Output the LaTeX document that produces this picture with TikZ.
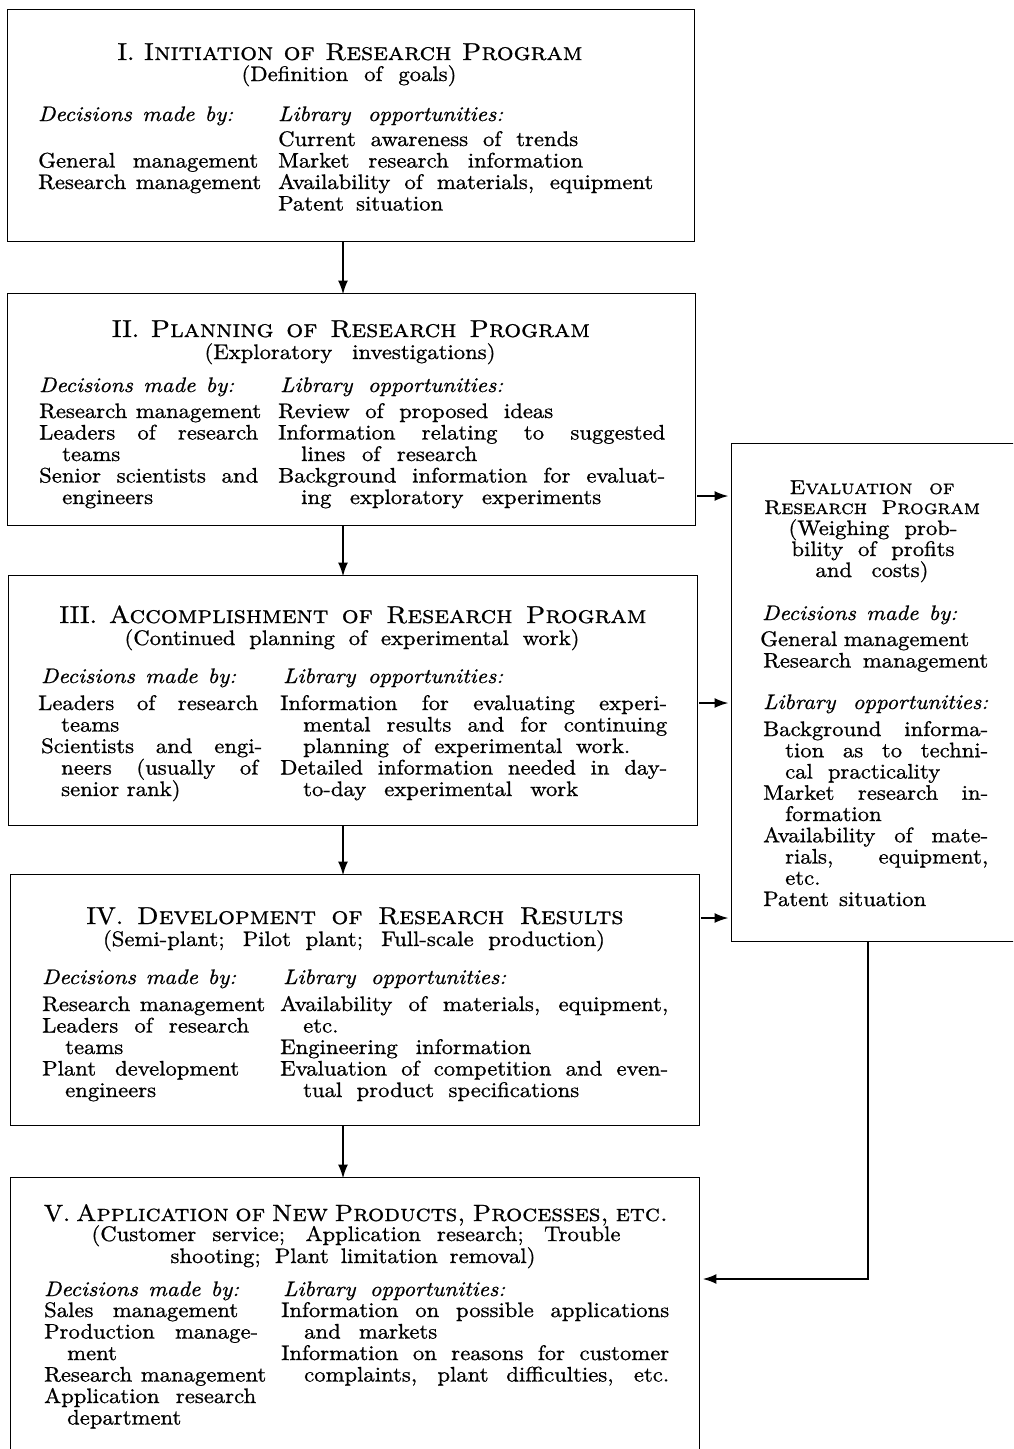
\documentclass[tikz,border=0pt]{standalone}
\usepackage{fontspec}
\setmainfont{lmroman10-regular.otf}[
  ItalicFont=lmroman10-italic.otf,
  SmallCapsFont=lmromancaps10-regular.otf,
  FakeBold=0.9, FakeStretch=1.08]
\usetikzlibrary{arrows.meta}
\newcommand\lnW[2]{\hbox{\makebox[#1pt][s]{#2}}}
\newcommand\lnIW[2]{\hbox{\hspace*{23pt}\makebox[#1pt][s]{#2}}}
\newcommand\lnN[1]{\hbox{#1}}
\newcommand\lnIN[1]{\hbox{\hspace*{23pt}#1}}
\newcommand\colbox[1]{\vtop{\lineskiplimit=-100pt\lineskip=0pt #1}}
\begin{document}
\begin{tikzpicture}[x=1pt,y=-1pt,
  box/.style={draw, line width=0.9pt, inner sep=0},
  txt/.style={inner sep=0, anchor=base west, font=\fontsize{21}{21.5}\selectfont},
  hd/.style={inner sep=0, anchor=base west, font=\fontsize{21}{21.5}\selectfont\itshape},
  ttl/.style={inner sep=0, anchor=base, font=\fontsize{24.5}{24}\selectfont},
  sub/.style={inner sep=0, anchor=base, font=\fontsize{21}{21.5}\selectfont},
  evt/.style={inner sep=0, anchor=base, font=\fontsize{20}{20}\selectfont},
  arr/.style={line width=2pt, -{Latex[length=14pt,width=10pt]}}]
\useasboundingbox (0,0) rectangle (1013,1449);
\clip (0,0) rectangle (1013,1449);

% boxes
\node[box, minimum width=687pt, minimum height=232pt] (b1) at (350.5,125) {};
\node[box, minimum width=688pt, minimum height=232pt] (b2) at (351,409) {};
\node[box, minimum width=689pt, minimum height=250pt] (b3) at (352.5,700) {};
\node[box, minimum width=689pt, minimum height=251pt] (b4) at (354.5,999.5) {};
\node[box, minimum width=689pt, minimum height=293pt] (b5) at (354.5,1323.5) {};
\node[box, minimum width=309pt, minimum height=498pt] (ev) at (885.5,692) {};

% Box I
\node[ttl] (t1) at (350,60) {\lnW{465}{I. \textsc{Initiation of Research Program}}};
\node[sub] (s1) at (349,81) {\lnW{215}{(Definition of goals)}};
\node[hd] (d1) at (38,121) {\lnW{195}{Decisions made by:}};
\node[hd] (l1) at (278,121) {\lnW{225}{Library opportunities:}};
\node[txt] (r1) at (278,146) {\colbox{%
  \lnW{300}{Current awareness of trends}
  \lnW{305}{Market research information}
  \lnW{375}{Availability of materials, equipment}
  \lnW{165}{Patent situation}}};
\node[txt] (m1) at (38,167.5) {\colbox{%
  \lnW{220}{General management}
  \lnW{223}{Research management}}};

% Box II
\node[ttl] (t2) at (351,337) {\lnW{478}{II. \textsc{Planning of Research Program}}};
\node[sub] (s2) at (350,359) {\lnW{291}{(Exploratory investigations)}};
\node[hd] (d2) at (39,392) {\lnW{195}{Decisions made by:}};
\node[hd] (l2) at (280,392) {\lnW{223}{Library opportunities:}};
\node[txt] (m2) at (39,418) {\colbox{%
  \lnW{222}{Research management}
  \lnW{219}{Leaders of research}
  \lnIN{teams}
  \lnW{219}{Senior scientists and}
  \lnIN{engineers}}};
\node[txt] (r2) at (278,418) {\colbox{%
  \lnW{275}{Review of proposed ideas}
  \lnW{387}{Information relating to suggested}
  \lnIW{176}{lines of research}
  \lnW{387}{Background information for evaluat-}
  \lnIW{300}{ing exploratory experiments}}};

% Box III
\node[ttl] (t3) at (353,623) {\lnW{587}{III. \textsc{Accomplishment of Research Program}}};
\node[sub] (s3) at (352,645) {\lnW{455}{(Continued planning of experimental work)}};
\node[hd] (d3) at (41,683) {\lnW{195}{Decisions made by:}};
\node[hd] (l3) at (283,683) {\lnW{220}{Library opportunities:}};
\node[txt] (m3) at (38,710) {\colbox{%
  \lnW{220}{Leaders of research}
  \lnIN{teams}
  \hbox{\hspace*{3pt}\makebox[221pt][s]{Scientists and engi-}}
  \lnIW{197}{neers (usually of}
  \lnIN{senior rank)}}};
\node[txt] (r3) at (280,710) {\colbox{%
  \lnW{387}{Information for evaluating experi-}
  \lnIW{364}{mental results and for continuing}
  \lnIW{327}{planning of experimental work.}
  \lnW{387}{Detailed information needed in day-}
  \lnIW{275}{to-day experimental work}}};

% Box IV
\node[ttl] (t4) at (355,924) {\lnW{537}{IV. \textsc{Development of Research Results}}};
\node[sub] (s4) at (354,946) {\lnW{502}{(Semi-plant; Pilot plant; Full-scale production)}};
\node[hd] (d4) at (42,984) {\lnW{194}{Decisions made by:}};
\node[hd] (l4) at (283,984) {\lnW{223}{Library opportunities:}};
\node[txt] (m4) at (42,1011) {\colbox{%
  \lnW{223}{Research management}
  \lnW{207}{Leaders of research}
  \lnIN{teams}
  \lnW{197}{Plant development}
  \lnIN{engineers}}};
\node[txt] (r4) at (280,1011) {\colbox{%
  \lnW{388}{Availability of materials, equipment,}
  \lnIN{etc.}
  \lnW{251}{Engineering information}
  \lnW{388}{Evaluation of competition and even-}
  \lnIW{276}{tual product specifications}}};

% Box V
\node[ttl, font=\fontsize{23.5}{24}\selectfont] (t5) at (356,1221) {\lnW{624}{V. \textsc{Application of New Products, Processes, etc.}}};
\node[sub] (s5) at (356,1241) {\lnW{529}{(Customer service; Application research; Trouble}};
\node[sub] (s5b) at (353,1263) {\lnW{365}{shooting; Plant limitation removal)}};
\node[hd] (d5) at (44,1296) {\lnW{195}{Decisions made by:}};
\node[hd] (l5) at (283,1296) {\lnW{222}{Library opportunities:}};
\node[txt] (m5) at (44,1317) {\colbox{%
  \lnW{194}{Sales management}
  \lnW{214}{Production manage-}
  \lnIN{ment}
  \lnW{222}{Research management}
  \lnW{212}{Application research}
  \lnIN{department}}};
\node[txt] (r5) at (281,1317) {\colbox{%
  \lnW{388}{Information on possible applications}
  \lnIW{133}{and markets}
  \lnW{388}{Information on reasons for customer}
  \lnIW{365}{complaints, plant difficulties, etc.}}};

% Evaluation box
\node[evt] (et1) at (872,494) {\lnW{165}{\textsc{Evaluation of}}};
\node[evt] (et2) at (872,514) {\lnW{216}{\textsc{Research Program}}};
\node[sub] (es1) at (873,535) {\lnW{169}{(Weighing prob-}};
\node[sub] (es2) at (873,556) {\lnW{163}{bility of profits}};
\node[sub] (es3) at (872,577) {\lnW{113}{and costs)}};
\node[hd] (ed) at (762,620) {\lnW{195}{Decisions made by:}};
\node[txt] (em) at (760,646) {\colbox{%
  \lnW{209}{General management}
  \hbox{\hspace*{3pt}\makebox[225pt][s]{Research management}}}};
\node[hd] (el) at (763,709) {\lnW{225}{Library opportunities:}};
\node[txt] (er) at (763,736) {\colbox{\baselineskip=21.25pt
  \lnW{225}{Background informa-}
  \hbox{\hspace*{22pt}\makebox[203pt][s]{tion as to techni-}}
  \hbox{\hspace*{22pt}\makebox[155pt][s]{cal practicality}}
  \lnW{225}{Market research in-}
  \hbox{\hspace*{22pt}formation}
  \lnW{225}{Availability of mate-}
  \hbox{\hspace*{22pt}\makebox[203pt][s]{rials, equipment,}}
  \hbox{\hspace*{22pt}etc.}
  \lnW{163}{Patent situation}}};

% connectors
\coordinate (ax) at (343,0);
\coordinate (ra) at (0,496);
\coordinate (rb) at (0,703);
\coordinate (rc) at (0,918);
\coordinate (rx) at (868,0);
\coordinate (rr) at (0,1279);
\draw[arr] (b1.south -| ax) -- ([yshift=-2pt]b2.north -| ax);
\draw[arr] (b2.south -| ax) -- ([yshift=-2pt]b3.north -| ax);
\draw[arr] (b3.south -| ax) -- ([yshift=-2pt]b4.north -| ax);
\draw[arr] (b4.south -| ax) -- ([yshift=-2pt]b5.north -| ax);
\draw[arr, shorten <=2pt, shorten >=2pt] (b2.east |- ra) -- (ev.west |- ra);
\draw[arr, shorten <=2pt, shorten >=2pt] (b3.east |- rb) -- (ev.west |- rb);
\draw[arr, shorten <=2pt, shorten >=2pt] (b4.east |- rc) -- (ev.west |- rc);
\draw[arr, line width=2.2pt, shorten >=3pt] (ev.south -| rx) |- (b5.east |- rr);
\end{tikzpicture}
\end{document}
